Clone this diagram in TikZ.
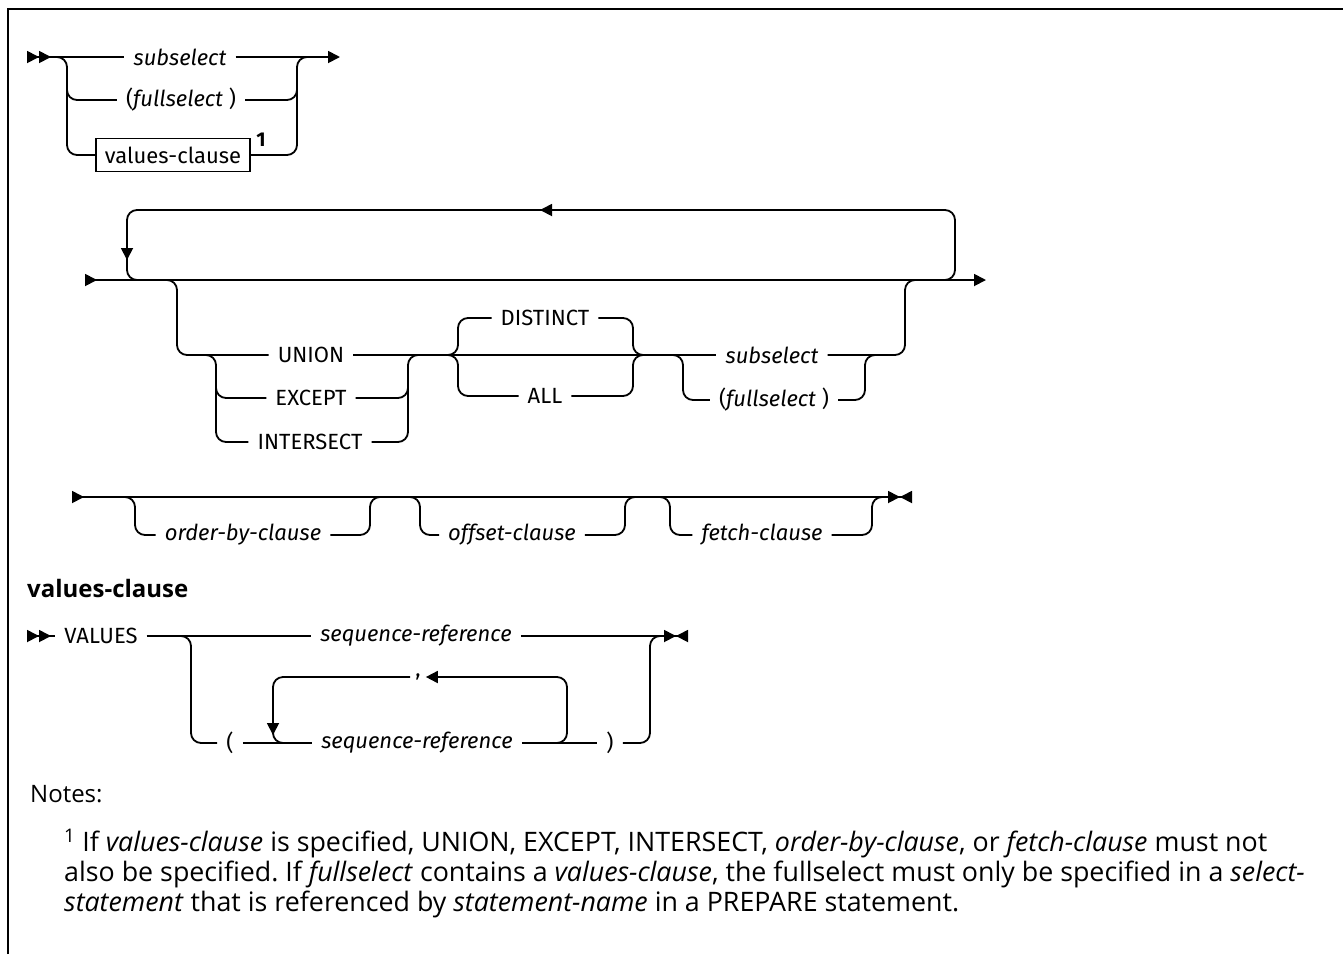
\documentclass[tikz,border=0pt]{standalone}
\usepackage{fontspec}
\setmainfont{Fira Sans}
\newfontfamily\notefont{Open Sans}
\usetikzlibrary{arrows.meta,positioning}
\tikzset{
  track/.style={line width=1.8pt,rounded corners=10pt},
  lbl/.style={inner xsep=9pt,inner ysep=2pt,font=\fontsize{22}{26}\selectfont},
  var/.style={lbl,font=\fontsize{22}{26}\selectfont\itshape},
  clausebox/.style={draw,line width=1.3pt,minimum width=154pt,minimum height=33pt,
                    inner sep=0pt,font=\fontsize{22}{26}\selectfont},
  tri/.tip={Triangle[length=12pt,width=12pt]},
  rtri/.tip={Triangle[length=12pt,width=12pt,reversed]},
  begin2/.style={{rtri[]rtri[]}-},
  goon/.style={-{tri[]}},
  stop/.style={-{tri[]rtri[]}},
}
\frenchspacing
\begin{document}
\begin{tikzpicture}[x=1pt,y=-1pt]
  \useasboundingbox (0,0) rectangle (1343,954);
  % frame
  \draw[line width=2pt] (8,954) -- (8,9) -- (1343,9);
  % fullselect: first operand
  \node[var] (sub1) at (180,57) {subselect};
  \node[lbl] (full1) at (181,100) {(\textit{fullselect} )};
  \node[clausebox] (vcbox) at (173,155) {values-clause};
  \node[font=\fontsize{20}{22}\selectfont\bfseries] (fn1) at (261,140) {1};
  \draw[track,begin2] (27,57) -- (sub1.west);
  \draw[track,goon] (sub1.east) -- (340,57);
  \draw[track] (55,57) -| (67,155) -- (vcbox.west);
  \draw[track] (67,80) |- (full1.west);
  \draw[track] (vcbox.east) -| (297,57) -- (309,57);
  \draw[track] (full1.east) -| (297,80);
  % repeated set operators
  \coordinate (loopin) at (85,280);
  \coordinate (loopout) at (986,280);
  \draw[track,{rtri[]}-{tri[]}] (loopin) -- (loopout);
  \draw[track,goon] (935,280) -| (955,210) -- (540,210);
  \draw[track,goon] (546,210) -| (127,260);
  \draw[track] (127,250) |- (147,280);
  \node[lbl] (union) at (311,355) {UNION};
  \node[lbl] (except) at (311,398) {EXCEPT};
  \node[lbl] (inter) at (310,442) {INTERSECT};
  \node[lbl] (distinct) at (545,318) {DISTINCT};
  \node[lbl] (all) at (545,396) {ALL};
  \node[var] (sub2) at (772,355) {subselect};
  \node[lbl] (full2) at (774,400) {(\textit{fullselect} )};
  \draw[track] (165,280) -| (177,355) -- (union.west);
  \draw[track] (204,355) -| (216,442) -- (inter.west);
  \draw[track] (216,380) |- (except.west);
  \draw[track] (inter.east) -| (408,355) -- (420,355);
  \draw[track] (except.east) -| (408,380);
  \draw[track] (union.east) -- (sub2.west);
  \draw[track] (446,355) -| (458,318) -- (distinct.west);
  \draw[track] (446,355) -| (458,396) -- (all.west);
  \draw[track] (distinct.east) -| (633,355) -- (645,355);
  \draw[track] (all.east) -| (633,355) -- (645,355);
  \draw[track] (671,355) -| (683,400) -- (full2.west);
  \draw[track] (full2.east) -| (865,355) -- (877,355);
  \draw[track] (sub2.east) -| (905,280) -- (917,280);
  % optional trailing clauses
  \draw[track,{rtri[]}-{tri[]rtri[]}] (72,497) -- (912,497);
  \foreach \l/\r/\c/\name/\txt in {135/370/243/order/order-by-clause,
      420/625/512/offset/offset-clause, 670/872/762/fetch/fetch-clause}{
    \node[var] (\name) at (\c,535) {\txt};
    \draw[track] (\l-12,497) -| (\l,535) -- (\name.west);
    \draw[track] (\name.east) -| (\r,497) -- (\r+12,497);
  }
  % values-clause
  \node[font=\notefont\fontsize{24}{28}\selectfont\bfseries,anchor=west,inner sep=0pt]
    (vchead) at (27,588) {values-clause};
  \node[lbl] (values) at (101,636) {VALUES};
  \node[var] (seq1) at (416,636) {sequence-reference};
  \node[lbl] (lpar) at (230,743) {(};
  \node[var] (seq2) at (417,743) {sequence-reference};
  \node[lbl] (rpar) at (610,743) {)};
  \node[lbl,inner xsep=5pt] (comma) at (418,677) {,};
  \draw[track,begin2] (27,636) -- (values.west);
  \draw[track] (values.east) -- (seq1.west);
  \draw[track,stop] (seq1.east) -- (688,636);
  \draw[track] (179,636) -| (191,743) -- (lpar.west);
  \draw[track] (lpar.east) -- (seq2.west);
  \draw[track] (seq2.east) -- (rpar.west);
  \draw[track] (rpar.east) -| (650,636) -- (662,636);
  \draw[track,goon] (553,743) -| (567,677) -- (comma.east);
  \draw[track,goon] (comma.west) -| (273,735);
  \draw[track] (273,725) |- (288,743);
  % notes
  \node[font=\notefont\fontsize{24}{28}\selectfont,anchor=west,inner sep=0pt]
    (notes) at (30,794) {Notes:};
  \node[font=\notefont\fontsize{26.8}{30}\selectfont,anchor=north west,align=left,inner sep=0pt]
    (fntext) at (64,829) {\textsuperscript{1} If \textit{values-clause} is specified,
    UNION, EXCEPT, INTERSECT, \textit{order-by-clause}, or \textit{fetch-clause} must not\\
    also be specified. If \textit{fullselect} contains a \textit{values-clause}, the
    fullselect must only be specified in a \textit{select-}\\
    \textit{statement} that is referenced by \textit{statement-name} in a PREPARE statement.};
\end{tikzpicture}
\end{document}
